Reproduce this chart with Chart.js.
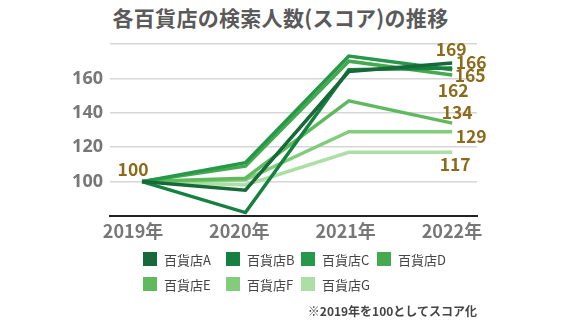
<!DOCTYPE html>
<html lang="ja">
<head>
<meta charset="utf-8">
<script src="https://cdn.jsdelivr.net/npm/chart.js@4"></script>
<style>
  html, body { margin: 0; padding: 0; background: #fff; }
  body { width: 567px; height: 321px; position: relative; overflow: hidden;
         font-family: "Noto Sans CJK JP", "Noto Sans", sans-serif; }
  #chart { position: absolute; left: 0; top: 0; }
  .title { position: absolute; left: -3px; top: 2px; width: 567px; text-align: center;
           font-size: 21px; font-weight: 700; color: #5a5a5a; letter-spacing: 0.3px; }
  .legend { position: absolute; left: 143px; top: 249px; width: 340px; }
  .legend-item { position: absolute; display: flex; align-items: center; height: 20px;
                 font-size: 13px; color: #444; }
  .legend-box { width: 14px; height: 14px; margin-right: 7px; }
  .note { position: absolute; right: 90px; top: 302px; font-size: 12px; font-weight: 700; color: #444; }
</style>
</head>
<body>
<div class="title">各百貨店の検索人数(スコア)の推移</div>
<canvas id="chart" width="567" height="321"></canvas>
<div class="legend" id="legend"></div>
<div class="note">※2019年を100としてスコア化</div>
<script>
const years = ['2019年', '2020年', '2021年', '2022年'];
const stores = ['百貨店A', '百貨店B', '百貨店C', '百貨店D', '百貨店E', '百貨店F', '百貨店G'];
const colors = ['#17693a', '#168040', '#27974a', '#45aa4f', '#5fba5f', '#82cc7c', '#acdfa3'];

const storeA = [100, 95, 164, 169];
const storeB = [100, 82, 165, 166];
const storeC = [100, 111, 173, 165];
const storeD = [100, 109, 170, 162];
const storeE = [100, 102, 147, 134];
const storeF = [100, 101, 129, 129];
const storeG = [100, 98, 117, 117];
const series = [storeA, storeB, storeC, storeD, storeE, storeF, storeG];

const yTicks = [100, 120, 140, 160];

// where each end label sits relative to its point
const endLabelOffsets = [[-1, -14], [19, -6], [18, 6], [1, 15], [5, -11], [19, 5], [3, 12]];

const font = '"Noto Sans CJK JP", "Noto Sans", sans-serif';

const valueLabels = {
  id: 'valueLabels',
  afterDatasetsDraw(chart) {
    const { ctx } = chart;
    ctx.save();
    ctx.font = `700 17.5px ${font}`;
    ctx.fillStyle = '#8b6a1a';
    ctx.textAlign = 'center';
    ctx.textBaseline = 'middle';
    chart.data.datasets.forEach((ds, i) => {
      const pts = chart.getDatasetMeta(i).data;
      const last = pts[pts.length - 1];
      const [dx, dy] = endLabelOffsets[i];
      ctx.fillText(String(ds.data[ds.data.length - 1].y), last.x + dx, last.y + dy);
    });
    const first = chart.getDatasetMeta(0).data[0];
    ctx.fillText(String(chart.data.datasets[0].data[0].y), first.x - 9, first.y - 12);
    ctx.restore();
  },
};

new Chart(document.getElementById('chart').getContext('2d'), {
  type: 'line',
  data: {
    datasets: series.map((vals, i) => ({
      label: stores[i],
      data: vals.map((v, j) => ({ x: j, y: v })),
      borderColor: colors[i],
      backgroundColor: colors[i],
      borderWidth: 3.5,
      pointRadius: 0,
      tension: 0,
    })),
  },
  options: {
    responsive: false,
    animation: false,
    layout: { padding: { top: 44, right: 90, left: 0, bottom: 0 } },
    plugins: { legend: { display: false }, title: { display: false }, tooltip: { enabled: false } },
    scales: {
      // positions the lines, not drawn
      x: { type: 'linear', display: false, min: -0.31, max: 3.24 },
      // year labels and the base line
      years: {
        type: 'linear',
        position: 'bottom',
        min: -0.217,
        max: 3.236,
        afterBuildTicks: (axis) => { axis.ticks = years.map((_, i) => ({ value: i })); },
        afterFit: (axis) => { axis.height = 105; },
        grid: { display: false, drawTicks: false },
        border: { color: '#222', width: 2 },
        ticks: {
          callback: (v) => years[v],
          color: '#777',
          padding: 4,
          maxRotation: 0,
          font: { family: font, size: 18, weight: '700' },
        },
      },
      y: {
        min: 80,
        max: 180,
        afterBuildTicks: (axis) => { axis.ticks = [80, ...yTicks, 180].map((v) => ({ value: v })); },
        afterFit: (axis) => { axis.width = 110; },
        border: { display: false },
        grid: {
          color: (c) => (c.tick && c.tick.value === 80 ? 'rgba(0,0,0,0)' : '#d6d6d6'),
          lineWidth: 1.5,
          drawTicks: false,
        },
        ticks: {
          callback: (v) => (yTicks.includes(v) ? v : ''),
          color: '#777',
          padding: 7,
          font: { family: '"Noto Sans", sans-serif', size: 18, weight: '700' },
        },
      },
    },
  },
  plugins: [valueLabels],
});

// two-row legend
const legendPos = [[0, 0], [83, 0], [158, 0], [234, 0], [0, 25], [83, 25], [158, 25]];
const legendEl = document.getElementById('legend');
stores.forEach((name, i) => {
  const item = document.createElement('div');
  item.className = 'legend-item';
  item.style.left = legendPos[i][0] + 'px';
  item.style.top = legendPos[i][1] + 'px';
  item.innerHTML = `<span class="legend-box" style="background:${colors[i]}"></span>${name}`;
  legendEl.appendChild(item);
});
</script>
</body>
</html>
